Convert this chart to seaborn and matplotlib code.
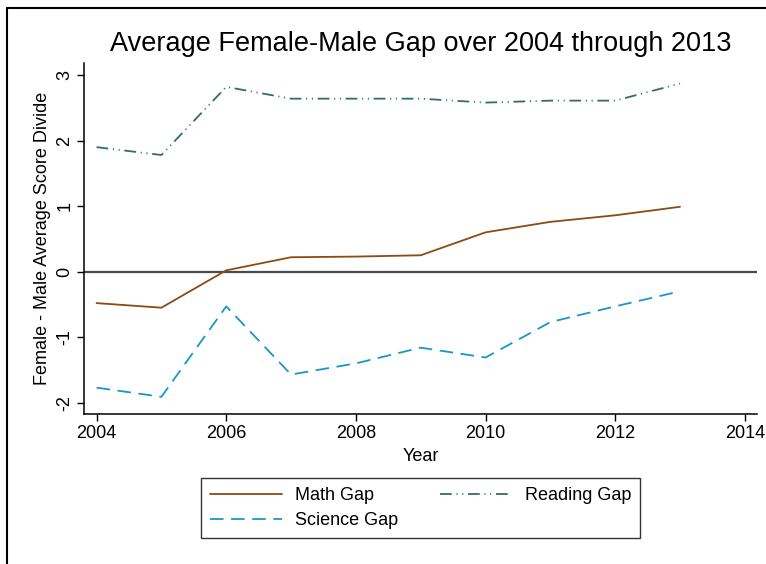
import numpy as np
import pandas as pd
import matplotlib
matplotlib.use("Agg")
import matplotlib.pyplot as plt
from matplotlib.lines import Line2D
import seaborn as sns

# Data
years = [2004, 2005, 2006, 2007, 2008, 2009, 2010, 2011, 2012, 2013]
math_gap = [-0.48, -0.55, 0.02, 0.22, 0.23, 0.25, 0.60, 0.76, 0.86, 0.99]
reading_gap = [1.90, 1.78, 2.82, 2.64, 2.64, 2.64, 2.58, 2.61, 2.61, 2.87]
science_gap = [-1.77, -1.91, -0.53, -1.57, -1.40, -1.16, -1.31, -0.77, -0.53, -0.30]
series_names = ["Math Gap", "Reading Gap", "Science Gap"]
x_ticks = [2004, 2006, 2008, 2010, 2012, 2014]
y_ticks = [-2, -1, 0, 1, 2, 3]

df = pd.DataFrame({
    "Year": years * 3,
    "Gap": math_gap + reading_gap + science_gap,
    "Series": [s for s in series_names for _ in years],
})

sns.set_style("white")
plt.rcParams["font.family"] = ["Liberation Sans", "DejaVu Sans"]
plt.rcParams["axes.unicode_minus"] = False
plt.rcParams["text.color"] = "black"
plt.rcParams["axes.labelcolor"] = "black"
plt.rcParams["xtick.color"] = "black"
plt.rcParams["ytick.color"] = "black"

colors = {"Math Gap": "#8c4a14", "Reading Gap": "#2f6f67", "Science Gap": "#1a96c8"}
dashes = {"Math Gap": "", "Reading Gap": (6.5, 2.6, 0.6, 2.6, 0.6, 2.6),
          "Science Gap": (7.5, 4.2)}

fig = plt.figure(figsize=(7.66, 5.64), dpi=100)
ax = fig.add_axes([0.110, 0.2654, 0.988 - 0.110, 0.8878 - 0.2654])

ax.axhline(0, color="#4a4a4a", lw=1.6, zorder=1)
sns.lineplot(data=df, x="Year", y="Gap", hue="Series", style="Series",
             palette=colors, dashes=dashes, lw=1.3, legend=False, ax=ax)

ax.set_xlim(2003.81, 2014.185)
ax.set_ylim(-2.177, 3.18)
ax.set_xticks(x_ticks)
ax.set_yticks(y_ticks)
for lab in ax.get_yticklabels():
    lab.set_rotation(90)
    lab.set_va("center")
ax.tick_params(axis="both", direction="out", length=5, width=1, labelsize=13,
               color="black", labelcolor="black", pad=3, left=True, bottom=True)

for side in ["top", "right"]:
    ax.spines[side].set_visible(False)
for side in ["left", "bottom"]:
    ax.spines[side].set_color("black")
    ax.spines[side].set_linewidth(1.1)

ax.set_xlabel("Year", fontsize=13, labelpad=4)
ax.set_ylabel("Female - Male Average Score Divide", fontsize=13, labelpad=4)
ax.set_title("Average Female-Male Gap over 2004 through 2013", fontsize=19.5, pad=9,
             color="black")

lines = ax.get_lines()[1:]
handles = [lines[0], lines[2], lines[1]]
labels = ["Math Gap", "Science Gap", "Reading Gap"]
leg = fig.legend(handles, labels, loc="upper center", bbox_to_anchor=(0.549, 0.1525),
                 ncol=2, fontsize=13, frameon=True, fancybox=False, edgecolor="black",
                 handlelength=4.0, handletextpad=0.7, columnspacing=2.3,
                 borderpad=0.5, labelspacing=0.45, borderaxespad=0)
leg.get_frame().set_linewidth(1.0)

# outer graph frame (partly cropped in the reference)
fig.add_artist(Line2D([7 / 766, 7 / 766], [0, 1 - 8 / 564], color="black", lw=1.5,
                      transform=fig.transFigure))
fig.add_artist(Line2D([7 / 766, 1], [1 - 8 / 564, 1 - 8 / 564], color="black", lw=1.5,
                      transform=fig.transFigure))

fig.savefig("out.png", dpi=100)
